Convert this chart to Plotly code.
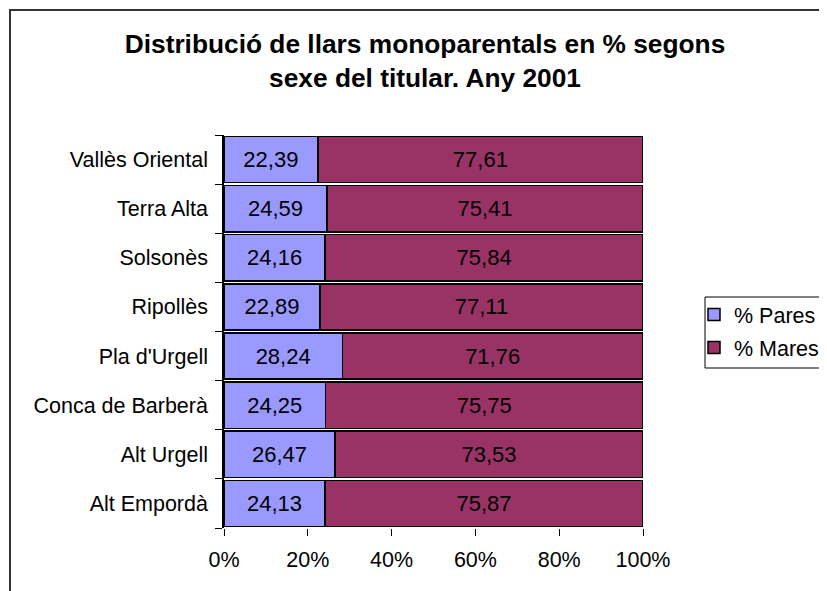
import plotly.graph_objects as go

categories = ["Alt Empordà", "Alt Urgell", "Conca de Barberà", "Pla d'Urgell",
              "Ripollès", "Solsonès", "Terra Alta", "Vallès Oriental"]
pares = [24.13, 26.47, 24.25, 28.24, 22.89, 24.16, 24.59, 22.39]
mares = [75.87, 73.53, 75.75, 71.76, 77.11, 75.84, 75.41, 77.61]
x_ticks = [0, 20, 40, 60, 80, 100]
x_tick_labels = ["0%", "20%", "40%", "60%", "80%", "100%"]

# page has an 8px body margin; work in figure coordinates = screen - 8
OFF = 8
W, H = 827 - OFF, 591 - OFF
L, R, T, B = 224 - OFF, 643 - OFF, 135 - OFF, 528 - OFF
pw, ph = R - L, B - T
FONT = "Liberation Sans, Arial, sans-serif"

fig = go.Figure()
fig.add_trace(go.Bar(
    y=categories, x=pares, orientation="h", name="% Pares",
    marker=dict(color="#9999FF", line=dict(color="black", width=1.5)),
    texttemplate="%{x:.2f}", textposition="inside", insidetextanchor="middle",
    textangle=0, textfont=dict(color="black", size=22, family=FONT),
    legendgroup="a", hoverinfo="skip"))
fig.add_trace(go.Bar(
    y=categories, x=mares, orientation="h", name="% Mares",
    marker=dict(color="#993366", line=dict(color="black", width=1.5)),
    texttemplate="%{x:.2f}", textposition="inside", insidetextanchor="middle",
    textangle=0, textfont=dict(color="black", size=22, family=FONT),
    legendgroup="b", hoverinfo="skip"))

def px_x(p):
    return (p - OFF - L) / pw

def px_y(p):
    return (B - (p - OFF)) / ph

fig.update_layout(
    width=W, height=H,
    margin=dict(l=L, r=W - R, t=T, b=H - B, pad=0, autoexpand=False),
    paper_bgcolor="white", plot_bgcolor="white",
    barmode="stack", bargap=0.06,
    separators=",.",
    font=dict(family=FONT, size=21.5, color="black"),
    title=dict(
        text="<b>Distribució de llars monoparentals en % segons<br>sexe del titular. Any 2001</b>",
        x=(425 - OFF) / W, xanchor="center", xref="container",
        y=1 - 45 / H, yanchor="top", yref="container",
        font=dict(size=26.3, family=FONT, color="black")),
    xaxis=dict(range=[0, 100], tickvals=x_ticks, ticktext=x_tick_labels,
               showgrid=False, zeroline=False, showline=False, automargin=False,
               ticks="outside", ticklen=7, tickcolor="black", tickwidth=1,
               tickfont=dict(size=21.5), ticklabelstandoff=5, fixedrange=True),
    yaxis=dict(type="category", categoryorder="array", categoryarray=categories,
               range=[-0.5, len(categories) - 0.5], automargin=False,
               showgrid=False, zeroline=False, showline=True, linecolor="black", linewidth=1.5,
               ticks="outside", ticklen=7, tickcolor="black", tickwidth=1,
               tickson="boundaries", tickfont=dict(size=21.5), ticklabelstandoff=10,
               fixedrange=True),
    legend=dict(x=px_x(694), y=px_y(294), xanchor="left", yanchor="top",
                bgcolor="rgba(0,0,0,0)", borderwidth=0, itemwidth=30,
                font=dict(size=21.5), traceorder="grouped", tracegroupgap=2),
    showlegend=True,
    shapes=[
        dict(type="rect", xref="paper", yref="paper",
             x0=px_x(10), x1=px_x(827 + 20), y0=px_y(591 + 20), y1=px_y(10),
             line=dict(color="#333333", width=2), layer="below"),
        dict(type="rect", xref="paper", yref="paper",
             x0=px_x(705), x1=px_x(825.5), y0=px_y(368), y1=px_y(297),
             line=dict(color="black", width=1), fillcolor="white", layer="below"),
    ],
)

fig.write_html("out.html")
